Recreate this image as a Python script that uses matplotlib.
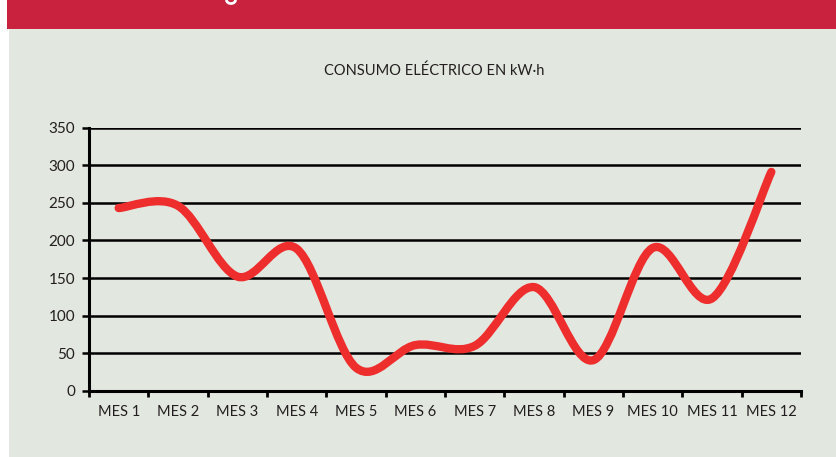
import matplotlib
matplotlib.use("Agg")
import matplotlib.pyplot as plt
from matplotlib.path import Path
from matplotlib.patches import PathPatch, Rectangle, Arc

meses = ["MES 1", "MES 2", "MES 3", "MES 4", "MES 5", "MES 6",
         "MES 7", "MES 8", "MES 9", "MES 10", "MES 11", "MES 12"]
consumo = [243, 246, 152, 189, 31, 61, 60, 138, 41, 190, 123, 291]
yticks = [0, 50, 100, 150, 200, 250, 300, 350]

BG = "#e2e7e0"
BAND = "#c8223f"
LINE = "#ee2d2d"
TXT = "#231f20"

plt.rcParams["font.family"] = ["Lato", "DejaVu Sans"]

fig = plt.figure(figsize=(8.37, 4.57), dpi=100)
fig.patch.set_facecolor("white")
# panel background and header band
fig.patches.append(Rectangle((9 / 837, 0), 1, 1, transform=fig.transFigure,
                             facecolor=BG, edgecolor="none", zorder=-2))
fig.patches.append(Rectangle((7 / 837, 1 - 29 / 457), 1, 29 / 457,
                             transform=fig.transFigure,
                             facecolor=BAND, edgecolor="none", zorder=-1))
# bit of a cut-off heading peeking in at the top edge
fig.patches.append(Arc((231 / 837, 1), 9 / 837, 7 / 457, theta1=180, theta2=360,
                       transform=fig.transFigure, color="white", lw=2))

ax = fig.add_axes([89 / 837, 1 - 391 / 457, 712 / 837, 263.5 / 457])
ax.set_facecolor("none")
ax.set_xlim(-0.5, 11.5)
ax.set_ylim(0, 350)

# smoothed line (bezier through the points, like a spreadsheet "smooth line")
xs = list(range(len(consumo)))
pts = list(zip(xs, consumo))
verts = [pts[0]]
codes = [Path.MOVETO]
n = len(pts)
for i in range(n - 1):
    p0 = pts[max(i - 1, 0)]
    p1 = pts[i]
    p2 = pts[i + 1]
    p3 = pts[min(i + 2, n - 1)]
    c1 = (p1[0] + (p2[0] - p0[0]) / 6, p1[1] + (p2[1] - p0[1]) / 6)
    c2 = (p2[0] - (p3[0] - p1[0]) / 6, p2[1] - (p3[1] - p1[1]) / 6)
    verts += [c1, c2, p2]
    codes += [Path.CURVE4] * 3
ax.add_patch(PathPatch(Path(verts, codes), facecolor="none", edgecolor=LINE,
                       lw=6, capstyle="round", joinstyle="round", zorder=3))

for y in yticks[1:]:
    ax.axhline(y, color="black", lw=1.8, zorder=1)

for s in ["top", "right"]:
    ax.spines[s].set_visible(False)
for s in ["left", "bottom"]:
    ax.spines[s].set_linewidth(2.2)
    ax.spines[s].set_color("black")

ax.set_yticks(yticks)
ax.tick_params(axis="y", length=5, width=1.8, pad=5, labelsize=11, labelcolor=TXT)

ax.set_xticks([i - 0.5 for i in range(len(meses) + 1)])
ax.set_xticklabels([])
ax.set_xticks(xs, minor=True)
ax.set_xticklabels(meses, minor=True)
ax.tick_params(axis="x", which="major", length=4, width=2, direction="out")
ax.tick_params(axis="x", which="minor", length=0, pad=10, labelsize=10.5,
               labelcolor=TXT)

fig.text(434 / 837, 1 - 71 / 457, "CONSUMO ELÉCTRICO EN kW·h", ha="center",
         va="center", fontsize=10.5, color=TXT)

fig.savefig("out.png", dpi=100, facecolor=fig.get_facecolor())
